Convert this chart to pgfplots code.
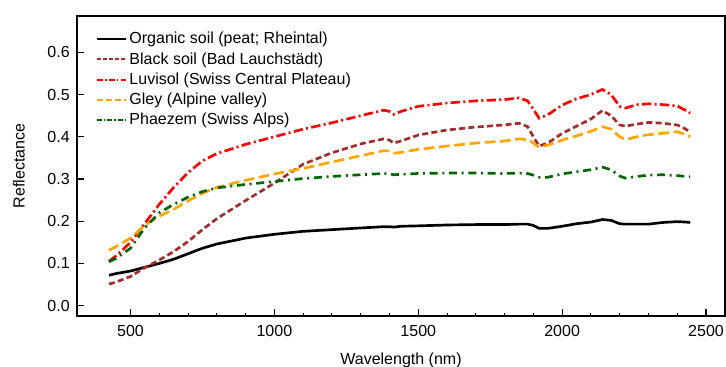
\documentclass[border=0pt]{standalone}
\usepackage{pgfplots}
\pgfplotsset{compat=1.18}
\usepackage{pgfplotstable}
\usepackage{fontspec}
\setmainfont{Liberation Sans}

\definecolor{cpeat}{HTML}{000000}
\definecolor{cblack}{HTML}{A52A2A}
\definecolor{cluvi}{HTML}{FF0000}
\definecolor{cgley}{HTML}{FFA500}
\definecolor{cphae}{HTML}{006400}

% Reflectance spectra: wavelength (nm) and reflectance
\pgfplotstableread{
wl    peat   blacksoil luvisol gley   phaezem
425   0.072  0.051     0.105   0.131  0.104
450   0.076  0.056     0.118   0.140  0.112
500   0.082  0.069     0.150   0.160  0.136
550   0.091  0.090     0.195   0.190  0.185
600   0.100  0.108     0.240   0.212  0.220
650   0.110  0.128     0.280   0.228  0.240
700   0.123  0.152     0.315   0.248  0.257
750   0.136  0.180     0.343   0.266  0.270
800   0.146  0.206     0.360   0.280  0.279
900   0.160  0.249     0.382   0.297  0.287
1000  0.169  0.290     0.400   0.312  0.294
1100  0.176  0.335     0.418   0.325  0.301
1200  0.180  0.362     0.433   0.340  0.306
1300  0.184  0.383     0.450   0.355  0.310
1380  0.187  0.395     0.463   0.367  0.313
1400  0.187  0.392     0.460   0.366  0.312
1415  0.186  0.385     0.453   0.361  0.310
1440  0.188  0.390     0.460   0.363  0.311
1500  0.189  0.404     0.472   0.370  0.313
1600  0.191  0.416     0.480   0.378  0.314
1700  0.192  0.423     0.485   0.385  0.314
1800  0.192  0.428     0.488   0.390  0.313
1850  0.193  0.432     0.492   0.395  0.314
1880  0.193  0.424     0.485   0.393  0.313
1900  0.190  0.400     0.465   0.385  0.309
1920  0.183  0.378     0.444   0.375  0.304
1950  0.183  0.385     0.452   0.380  0.304
2000  0.188  0.408     0.475   0.392  0.312
2050  0.194  0.425     0.490   0.402  0.317
2100  0.198  0.442     0.500   0.413  0.322
2140  0.204  0.462     0.512   0.424  0.328
2170  0.202  0.450     0.500   0.418  0.322
2200  0.194  0.428     0.472   0.400  0.307
2220  0.193  0.425     0.468   0.393  0.302
2260  0.193  0.430     0.476   0.400  0.306
2300  0.193  0.434     0.478   0.405  0.309
2350  0.197  0.432     0.476   0.408  0.310
2400  0.199  0.428     0.473   0.412  0.308
2430  0.198  0.418     0.462   0.405  0.306
2445  0.197  0.410     0.456   0.400  0.305
}\spectra

\begin{document}
\begin{tikzpicture}
\path[use as bounding box] (-57.75pt,-38.25pt) rectangle (486.75pt,237pt);
\begin{axis}[
  scale only axis,
  width=486pt, height=225pt,
  xmin=314, xmax=2566,
  ymin=-0.0245, ymax=0.686,
  axis line style={line width=1pt},
  tick align=inside,
  xtick pos=bottom, ytick pos=left,
  xtick={500,1000,...,2500},
  minor x tick num=4,
  ytick={0,0.1,...,0.61},
  major tick length=5pt, minor tick length=2.6pt,
  every tick/.style={black, line width=0.8pt},
  font=\fontsize{12}{14}\selectfont,
  every x tick label/.style={anchor=north, inner sep=0pt, yshift=-6.5pt},
  every y tick label/.style={anchor=east, inner sep=0pt, xshift=-5.25pt},
  /pgf/number format/assume math mode=true,
  scaled y ticks=false,
  scaled x ticks=false,
  x tick label style={/pgf/number format/.cd, 1000 sep={}},
  y tick label style={/pgf/number format/.cd, fixed, fixed zerofill, precision=1},
  xlabel={Wavelength (nm)},
  ylabel={Reflectance},
  every axis x label/.style={at={(axis description cs:0.5,-0.1633)}, anchor=base, inner sep=0pt},
  every axis y label/.style={at={(axis description cs:-0.0802,0.5)}, rotate=90, anchor=south, inner sep=0pt},
  legend style={draw=none, fill=none, at={(axis description cs:0,1)}, anchor=north west,
    xshift=12pt, yshift=-8pt, font=\fontsize{12}{14}\selectfont,
    row sep=1pt, inner sep=2pt},
  legend cell align=left,
  legend image code/.code={\draw[#1] (0pt,0pt) -- (21.75pt,0pt);},
]
\addplot[draw=cpeat, line width=2pt,
  legend image post style={line width=1.3pt}]
  table[x=wl, y=peat] {\spectra};
\addlegendentry{Organic soil (peat; Rheintal)}
\addplot[draw=cblack, line width=2pt, dash pattern=on 4.5pt off 2.5pt,
  legend image post style={line width=1.4pt, dash pattern=on 3pt off 1.6pt}]
  table[x=wl, y=blacksoil] {\spectra};
\addlegendentry{Black soil (Bad Lauchstädt)}
\addplot[draw=cluvi, line width=2pt, dash pattern=on 7pt off 2.5pt on 1.5pt off 2.5pt,
  legend image post style={line width=1.4pt, dash pattern=on 4.5pt off 1.6pt on 1.2pt off 1.6pt}]
  table[x=wl, y=luvisol] {\spectra};
\addlegendentry{Luvisol (Swiss Central Plateau)}
\addplot[draw=cgley, line width=2pt, dash pattern=on 8pt off 3.5pt,
  legend image post style={line width=1.4pt, dash pattern=on 4.5pt off 2.2pt}]
  table[x=wl, y=gley] {\spectra};
\addlegendentry{Gley (Alpine valley)}
\addplot[draw=cphae, line width=2pt, dash pattern=on 6pt off 3.5pt on 1.5pt off 3.5pt,
  legend image post style={line width=1.4pt, dash pattern=on 3.5pt off 1.6pt on 1.2pt off 1.6pt}]
  table[x=wl, y=phaezem] {\spectra};
\addlegendentry{Phaezem (Swiss Alps)}
\end{axis}
\end{tikzpicture}
\end{document}
